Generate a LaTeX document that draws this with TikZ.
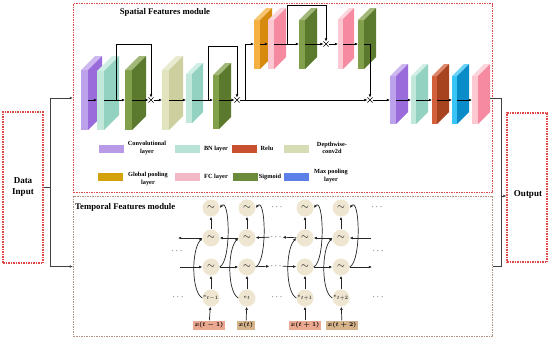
\documentclass[tikz,border=0pt]{standalone}
\usepackage{fontspec}
\setmainfont{Liberation Serif}
\usetikzlibrary{arrows.meta,shapes.misc}
\definecolor{purL}{HTML}{BCA2EA}\definecolor{purD}{HTML}{9A6BDA}
\definecolor{tealL}{HTML}{C2E8DC}\definecolor{tealD}{HTML}{93D2C0}
\definecolor{grnL}{HTML}{82A04C}\definecolor{grnD}{HTML}{5B7A2E}
\definecolor{dwL}{HTML}{E2E4C0}\definecolor{dwD}{HTML}{CDD09E}
\definecolor{orL}{HTML}{F4B040}\definecolor{orD}{HTML}{D68B0E}
\definecolor{pkL}{HTML}{FCC8D2}\definecolor{pkD}{HTML}{F58AA0}
\definecolor{rdL}{HTML}{D2603A}\definecolor{rdD}{HTML}{A8431F}
\definecolor{blL}{HTML}{38C4F4}\definecolor{blD}{HTML}{0A8CC8}
\definecolor{legpur}{HTML}{B89AE6}\definecolor{legteal}{HTML}{B8E3D6}
\definecolor{legrd}{HTML}{C8502E}\definecolor{legdw}{HTML}{D6DDB4}
\definecolor{legor}{HTML}{D4A20C}\definecolor{legpk}{HTML}{F2B8C6}
\definecolor{leggr}{HTML}{6B8A3A}\definecolor{legbl}{HTML}{5C80E8}
\definecolor{frameRed}{HTML}{E04848}
\definecolor{frameGray}{HTML}{B09480}
\definecolor{cellfill}{HTML}{EFE6D2}
\definecolor{insal}{HTML}{EBA890}
\definecolor{intan}{HTML}{D5B48C}
% name, x, ytop, ybot, w, d, light, dark, yflow
\newcommand{\slab}[9]{%
  \fill[#7] (#2,#3+#6) rectangle (#2+#5,#4);
  \fill[#7!75!white] (#2,#3+#6) -- (#2+#6,#3) -- (#2+#5+#6,#3) -- (#2+#5,#3+#6) -- cycle;
  \fill[#8] (#2+#5,#3+#6) -- (#2+#5+#6,#3) -- (#2+#5+#6,#4-#6) -- (#2+#5,#4) -- cycle;
  \coordinate (#1w) at (#2,#9);
  \coordinate (#1e) at (#2+#5,#9);
}
\tikzset{
  flow/.style={-{Latex[length=3.2pt,width=2.8pt]}, line width=0.6pt, black},
  tarr/.style={-{Latex[length=3.2pt,width=2.8pt]}, line width=0.7pt, black!85},
  mult/.style={cross out, draw, line width=0.6pt, minimum size=4.5pt, inner sep=0pt},
  framered/.style={draw=frameRed, dash pattern=on 1.5pt off 1pt, line width=1.1pt, inner sep=0pt},
  framegray/.style={draw=frameGray, dash pattern=on 1.5pt off 1pt, line width=1.1pt, inner sep=0pt},
  leg/.style={minimum width=25pt, minimum height=8pt, inner sep=0pt},
  legtxt/.style={font=\fontsize{6.3}{7.5}\selectfont\bfseries, align=center, inner sep=0pt},
  cell/.style={circle, fill=cellfill, minimum size=17pt, inner sep=0pt},
  inbox/.style={rectangle, minimum height=9pt, inner sep=1.5pt, font=\fontsize{6}{7}\selectfont\boldmath},
  dots/.style={inner sep=0pt, font=\small},
  conn/.style={line width=0.7pt, black!75},
}
\begin{document}
\begin{tikzpicture}[x=1pt,y=-1pt]
\useasboundingbox (0,0) rectangle (550,341);
% ---- frames
\node[framered, minimum width=419pt, minimum height=189pt] (sp) at (283,98) {};
\node[framegray, minimum width=419pt, minimum height=140pt] (tp) at (283,266.5) {};
\node[framered, minimum width=40pt, minimum height=151pt, align=center,
      font=\fontsize{9}{11}\selectfont\bfseries] (din) at (23,187.5) {Data\\Input};
\node[framered, minimum width=40pt, minimum height=149pt] (dout) at (527,187.5) {};
\node[font=\fontsize{9}{11}\selectfont\bfseries, inner sep=0pt] (otxt) at (528,194) {Output};
\node[font=\fontsize{8.7}{11}\selectfont\bfseries, inner sep=0pt] (sptitle) at (165,12) {Spatial Features module};
\node[font=\fontsize{8.7}{11}\selectfont\bfseries, inner sep=0pt, anchor=west] (tptitle) at (75,207) {Temporal Features module};
% ---- input / output connectors
\draw[conn, -{Latex[length=3.2pt,width=2.8pt]}] (din.east) -- ++(7,0) |- (sp.west);
\draw[conn, -{Latex[length=3.2pt,width=2.8pt]}] (din.east) -- ++(7,0) |- (tp.west);
\coordinate (oa) at (490,98);
\coordinate (ob) at (501,98);
\coordinate (oc) at (501,196);
\draw[conn] (oa) -- (ob) |- (tp.east);
\draw[conn, -{Latex[length=3.2pt,width=2.8pt]}] (oc) -- (oc -| dout.west);
% ---- spatial slabs
\slab{s1}{81}{56}{130}{7}{14}{purL}{purD}{100}
\slab{s2}{97}{56}{130}{7}{15}{tealL}{tealD}{100}
\slab{s3}{125}{56}{130}{7}{14}{grnL}{grnD}{100}
\slab{s4}{162}{56}{130}{7}{14}{dwL}{dwD}{100}
\slab{s5}{186}{63}{123}{6}{11}{tealL}{tealD}{100}
\slab{s6}{213}{63}{129}{6}{12}{grnL}{grnD}{100}
\slab{u1}{254}{8}{69}{6}{12}{orL}{orD}{44}
\slab{u2}{268}{8}{69}{6}{12}{pkL}{pkD}{44}
\slab{u3}{299}{8}{69}{6}{12}{grnL}{grnD}{44}
\slab{u4}{338}{8}{69}{5}{11}{pkL}{pkD}{44}
\slab{u5}{358}{8}{69}{6}{12}{grnL}{grnD}{44}
\slab{f1}{390}{64}{124}{6}{12}{purL}{purD}{100}
\slab{f2}{411}{64}{124}{5}{12}{tealL}{tealD}{100}
\slab{f3}{432}{64}{124}{5}{12}{rdL}{rdD}{100}
\slab{f4}{452}{64}{124}{5}{12}{blL}{blD}{100}
\slab{f5}{472}{64}{124}{6}{12}{pkL}{pkD}{100}
% ---- multiply nodes
\node[mult] (m1) at (151,100) {};
\node[mult] (m2) at (237,100) {};
\node[mult] (m3) at (326,44) {};
\node[mult] (m4) at (370,100) {};
% ---- spatial flow
\draw[flow] (s1e) -- (s2w);
\draw[flow] (s2e) -- (s3w);
\draw[flow] (s3e) -- (m1);
\draw[flow] (m1) -- (s4w);
\draw[flow] (s4e) -- (s5w);
\draw[flow] (s5e) -- (s6w);
\draw[flow] (s6e) -- (m2);
\draw[flow] (m2) -- (m4);
\draw[flow] (m4) -- (f1w);
\draw[flow] (f1e) -- (f2w);
\draw[flow] (f2e) -- (f3w);
\draw[flow] (f3e) -- (f4w);
\draw[flow] (f4e) -- (f5w);
\coordinate (k1) at (116,100);
\coordinate (k2) at (208,100);
\coordinate (k3) at (245,100);
\coordinate (k4) at (287,44);
\draw[flow] (k1) -- ++(0,-56) -| (m1);
\draw[flow] (k2) -- ++(0,-54) -| (m2);
\draw[flow] (k3) |- (u1w);
\draw[flow] (u1e) -- (u2w);
\draw[flow] (u2e) -- (u3w);
\draw[flow] (u3e) -- (m3);
\draw[flow] (m3) -- (u4w);
\draw[flow] (u4e) -- (u5w);
\draw[flow] (u5e) -| (m4);
\draw[flow] (k4) -- ++(0,-39) -| (m3);
% ---- legend
\node[leg, fill=legpur] (l1) at (111,149) {};
\node[legtxt] (t1) at (147,148) {Convolutional\\layer};
\node[leg, fill=legteal] (l2) at (187.5,149) {};
\node[legtxt] (t2) at (216,149) {BN layer};
\node[leg, fill=legrd] (l3) at (244.5,149) {};
\node[legtxt] (t3) at (267,148) {Relu};
\node[leg, fill=legdw] (l4) at (296.5,149) {};
\node[legtxt] (t4) at (332,148) {Depthwise-\\conv2d};
\node[leg, fill=legor] (l5) at (110.5,177) {};
\node[legtxt] (t5) at (148,179) {Global pooling\\layer};
\node[leg, fill=legpk] (l6) at (187.5,177) {};
\node[legtxt] (t6) at (216,177) {FC layer};
\node[leg, fill=leggr] (l7) at (245,177) {};
\node[legtxt] (t7) at (270,177) {Sigmoid};
\node[leg, fill=legbl] (l8) at (296.5,177) {};
\node[legtxt] (t8) at (331,176) {Max pooling\\layer};
% ---- temporal grid
\node[cell] (a1) at (211,208) {$\sim$};
\node[cell] (a2) at (247,208) {$\sim$};
\node[cell] (a3) at (305,208) {$\sim$};
\node[cell] (a4) at (341,208) {$\sim$};
\node[cell] (b1) at (211,238) {$\sim$};
\node[cell] (b2) at (247,238) {$\sim$};
\node[cell] (b3) at (305,238) {$\sim$};
\node[cell] (b4) at (341,238) {$\sim$};
\node[cell] (c1) at (211,267) {$\sim$};
\node[cell] (c2) at (247,267) {$\sim$};
\node[cell] (c3) at (305,267) {$\sim$};
\node[cell] (c4) at (341,267) {$\sim$};
\node[cell, font=\fontsize{5.5}{6}\selectfont] (e1) at (211,298) {$e_{t-1}$};
\node[cell, font=\fontsize{5.5}{6}\selectfont] (e2) at (247,298) {$e_{t}$};
\node[cell, font=\fontsize{5.5}{6}\selectfont] (e3) at (305,298) {$e_{t+1}$};
\node[cell, font=\fontsize{5.5}{6}\selectfont] (e4) at (341,298) {$e_{t+2}$};
\node[inbox, fill=insal] (x1) at (209,325) {$x(t-1)$};
\node[inbox, fill=intan] (x2) at (246,325) {$x(t)$};
\node[inbox, fill=insal] (x3) at (305,325) {$x(t+1)$};
\node[inbox, fill=intan] (x4) at (342,325) {$x(t+2)$};
% dots
\node[dots] (dL) at (177,251) {$\cdots$};
\node[dots] (dLe) at (178,297) {$\cdots$};
\node[dots] (dMa) at (277,207) {$\cdots$};
\node[dots, inner sep=1pt] (dMb) at (276,237) {$\cdots$};
\node[dots, inner sep=1pt] (dMc) at (276,266) {$\cdots$};
\node[dots] (dMe) at (277,297) {$\cdots$};
\node[dots] (dRa) at (377,207) {$\cdots$};
\node[dots] (dR) at (378,251) {$\cdots$};
\node[dots] (dRe) at (378,297) {$\cdots$};
\coordinate (bL) at (178,238);
\coordinate (cL) at (180,267);
\coordinate (bR) at (371,238);
\coordinate (cR) at (372,267);
% vertical arrows
\foreach \i in {1,2,3,4} {
  \draw[tarr] (x\i) -- (e\i);
  \draw[tarr] (e\i) -- (c\i);
  \draw[tarr] (b\i) -- (a\i);
  \draw[tarr] (c\i.east) .. controls +(12,-6) and +(10,-12) .. (a\i.east);
  \draw[tarr] (e\i.west) .. controls +(-11,-6) and +(-11,12) .. (b\i.west);
}
% forward row
\draw[tarr] (cL) -- (c1);
\draw[tarr] (c1) -- (c2);
\draw[tarr] (c2) -- (dMc);
\draw[tarr] (dMc) -- (c3);
\draw[tarr] (c3) -- (c4);
\draw[tarr] (c4) -- (cR);
% backward row
\draw[tarr] (b1) -- (bL);
\draw[tarr] (b2) -- (b1);
\draw[tarr] (dMb) -- (b2);
\draw[tarr] (b3) -- (dMb);
\draw[tarr] (b4) -- (b3);
\draw[tarr] (bR) -- (b4);
\end{tikzpicture}
\end{document}
